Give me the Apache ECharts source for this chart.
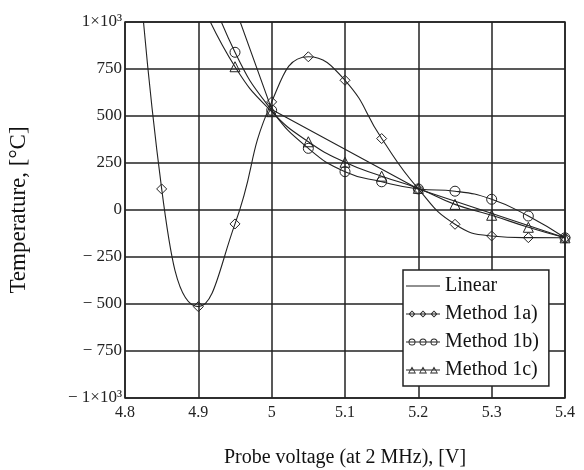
<!DOCTYPE html>
<html>
<head>
<meta charset="utf-8">
<script src="https://cdn.jsdelivr.net/npm/echarts@6/dist/echarts.min.js"></script>
<style>
html, body { margin: 0; padding: 0; background: #fff; }
#panel { width: 584px; height: 470px; }
</style>
</head>
<body>
<div id="panel"></div>
<script>
// probe voltage [V] where the methods are evaluated
var voltage = [4.8, 4.85, 4.9, 4.95, 5.0, 5.05, 5.1, 5.15, 5.2, 5.25, 5.3, 5.35, 5.4];
var method1a = [2500, 112, -514, -74, 575, 815, 690, 380, 112, -76, -138, -147, -148];
var method1b = [null, null, 1330, 839, 530, 328, 204, 150, 112, 100, 57, -32, -148];
var method1c = [null, null, 1140, 762, 523, 363, 254, 180, 115, 30, -28, -92, -148];

// piecewise linear calibration
var linearVoltage = [4.9, 5.0, 5.2, 5.4];
var linearTemp = [1620, 535, 112, -148];

var seriesNames = ['Linear', 'Method 1a)', 'Method 1b)', 'Method 1c)'];

var FONT = 'Liberation Serif';
var INK = '#222';

function pairs(xs, ys) {
    var out = [];
    for (var i = 0; i < xs.length; i++) {
        if (ys[i] !== null) out.push([xs[i], ys[i]]);
    }
    return out;
}

function yLabel(v) {
    if (v === 1000) return '1×10³';
    if (v === -1000) return '− 1×10³';
    if (v < 0) return '− ' + (-v);
    return String(v);
}

// legend icons: a thin line with three hollow markers (34 x 7)
var bar = 'M0 3 L34 3 L34 4 L0 4 Z ';
function diamondIcon() {
    var p = bar;
    [6, 17, 28].forEach(function (c) {
        p += 'M' + c + ' 0 L' + (c + 3.5) + ' 3.5 L' + c + ' 7 L' + (c - 3.5) + ' 3.5 Z ';
        p += 'M' + c + ' 1.3 L' + (c - 2.2) + ' 3.5 L' + c + ' 5.7 L' + (c + 2.2) + ' 3.5 Z ';
    });
    return 'path://' + p;
}
function circleIcon() {
    var p = bar;
    [6, 17, 28].forEach(function (c) {
        p += 'M' + (c - 3.5) + ' 3.5 A3.5 3.5 0 1 1 ' + (c + 3.5) + ' 3.5 A3.5 3.5 0 1 1 ' + (c - 3.5) + ' 3.5 Z ';
        p += 'M' + (c - 2.6) + ' 3.5 A2.6 2.6 0 1 0 ' + (c + 2.6) + ' 3.5 A2.6 2.6 0 1 0 ' + (c - 2.6) + ' 3.5 Z ';
    });
    return 'path://' + p;
}
function triangleIcon() {
    var p = bar;
    [6, 17, 28].forEach(function (c) {
        p += 'M' + c + ' 0 L' + (c + 4) + ' 7 L' + (c - 4) + ' 7 Z ';
        p += 'M' + c + ' 2.1 L' + (c - 2.7) + ' 6 L' + (c + 2.7) + ' 6 Z ';
    });
    return 'path://' + p;
}

function curve(name, data, symbol) {
    return {
        name: name,
        type: 'line',
        data: data,
        smooth: symbol === 'none' ? false : 0.5,
        symbol: symbol,
        symbolSize: 10,
        showSymbol: symbol !== 'none',
        clip: true,
        lineStyle: { color: INK, width: 1.1 },
        itemStyle: { color: 'transparent', borderColor: INK, borderWidth: 1 },
        emphasis: { disabled: true }
    };
}

var myChart = echarts.init(document.getElementById('panel'));

options = {
    backgroundColor: '#fff',
    animation: false,
    grid: {
        left: 125, top: 22, width: 440, height: 376,
        outerBoundsMode: 'none',
        containLabel: false,
        show: true, borderColor: INK, borderWidth: 1.5
    },
    legend: {
        orient: 'vertical',
        left: 403, top: 270,
        padding: [6, 10, 6, 3],
        itemGap: 8,
        itemWidth: 34,
        itemHeight: 7,
        itemTextGap: 10,
        backgroundColor: '#fff',
        borderColor: INK,
        borderWidth: 1.5,
        borderRadius: 0,
        itemStyle: { color: INK, borderWidth: 0 },
        textStyle: { fontFamily: FONT, fontSize: 20, color: '#111' },
        data: [
            { name: seriesNames[0], icon: 'path://M0 3 L34 3 L34 4 L0 4 Z' },
            { name: seriesNames[1], icon: diamondIcon() },
            { name: seriesNames[2], icon: circleIcon() },
            { name: seriesNames[3], icon: triangleIcon() }
        ]
    },
    xAxis: {
        type: 'value',
        min: 4.8, max: 5.4, interval: 0.1,
        name: 'Probe voltage (at 2 MHz), [V]',
        nameLocation: 'middle',
        nameGap: 50,
        nameTextStyle: { fontFamily: FONT, fontSize: 20, color: '#111' },
        axisLine: { show: false },
        axisTick: { show: false },
        axisLabel: { fontFamily: FONT, fontSize: 16, color: '#222', margin: 7 },
        splitLine: { show: true, lineStyle: { color: INK, width: 1.5 } }
    },
    yAxis: {
        type: 'value',
        min: -1000, max: 1000, interval: 250,
        name: 'Temperature, [°C]',
        nameLocation: 'middle',
        nameGap: 95,
        nameTextStyle: { fontFamily: FONT, fontSize: 23, color: '#111' },
        axisLine: { show: false },
        axisTick: { show: false },
        axisLabel: { fontFamily: FONT, fontSize: 17, color: '#222', margin: 3, formatter: yLabel },
        splitLine: { show: true, lineStyle: { color: INK, width: 1.5 } }
    },
    series: [
        curve(seriesNames[0], pairs(linearVoltage, linearTemp), 'none'),
        curve(seriesNames[1], pairs(voltage, method1a), 'diamond'),
        curve(seriesNames[2], pairs(voltage, method1b), 'circle'),
        curve(seriesNames[3], pairs(voltage, method1c), 'triangle')
    ]
};

myChart.setOption(options);
</script>
</body>
</html>
